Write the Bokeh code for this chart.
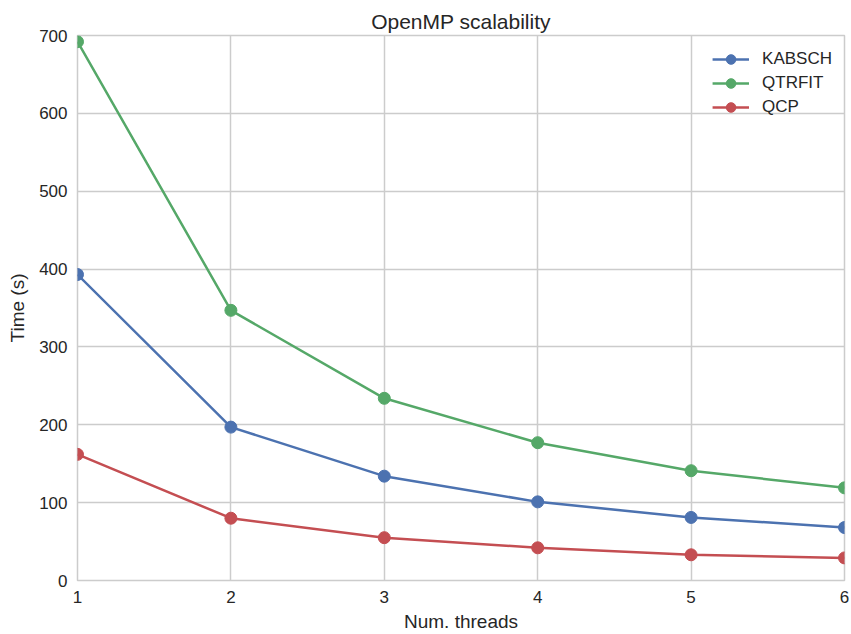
from bokeh.plotting import figure
from bokeh.embed import file_html
from bokeh.resources import INLINE
from bokeh.models import Range1d, FixedTicker

threads = [1, 2, 3, 4, 5, 6]
kabsch = [393, 197, 134, 101, 81, 68]
qtrfit = [692, 347, 234, 177, 141, 119]
qcp = [162, 80, 55, 42, 33, 29]
series = [("KABSCH", kabsch, "#4C72B0"), ("QTRFIT", qtrfit, "#55A868"), ("QCP", qcp, "#C44E52")]
y_ticks = [0, 100, 200, 300, 400, 500, 600, 700]

FONT = "Liberation Sans"
TXT = "#262626"

p = figure(width=851, height=634, output_backend="svg", toolbar_location=None,
           x_range=Range1d(1, 6), y_range=Range1d(0, 700),
           min_border_left=77, min_border_right=7, min_border_top=35, min_border_bottom=54,
           title="OpenMP scalability")
p.background_fill_color = "white"
p.border_fill_color = "white"
p.outline_line_color = "#cccccc"
p.outline_line_width = 1.5

for name, vals, col in series:
    p.line(threads, vals, line_color=col, line_width=2.5, legend_label=name)
    p.scatter(threads, vals, size=12, fill_color=col, line_color=col, legend_label=name)

p.title.align = "center"
p.title.text_font = FONT
p.title.text_font_size = "21px"
p.title.text_font_style = "normal"
p.title.text_color = TXT
p.title.offset = 0
p.title.standoff = 6

for ax in (p.xaxis[0], p.yaxis[0]):
    ax.axis_line_color = None
    ax.major_tick_line_color = None
    ax.minor_tick_line_color = None
    ax.major_tick_in = 0
    ax.major_tick_out = 0
    ax.minor_tick_out = 0
    ax.major_label_text_font = FONT
    ax.major_label_text_font_size = "17px"
    ax.major_label_text_color = TXT
    ax.axis_label_text_font = FONT
    ax.axis_label_text_font_size = "19px"
    ax.axis_label_text_font_style = "normal"
    ax.axis_label_text_color = TXT
    ax.major_label_standoff = 10

p.xaxis[0].ticker = FixedTicker(ticks=threads)
p.yaxis[0].ticker = FixedTicker(ticks=y_ticks)
p.xaxis[0].axis_label = "Num. threads"
p.yaxis[0].axis_label = "Time (s)"
p.xaxis[0].axis_label_standoff = 5
p.yaxis[0].axis_label_standoff = 8

p.grid.grid_line_color = "#cccccc"
p.grid.grid_line_width = 1.5

lg = p.legend[0]
lg.location = "top_right"
lg.border_line_color = None
lg.background_fill_alpha = 0
lg.label_text_font = FONT
lg.label_text_font_size = "17px"
lg.label_text_color = TXT
lg.glyph_width = 37
lg.glyph_height = 24
lg.label_height = 24
lg.spacing = 0
lg.margin = 12
lg.padding = 3
lg.label_standoff = 13

open("out.html", "w").write(file_html(p, INLINE))
